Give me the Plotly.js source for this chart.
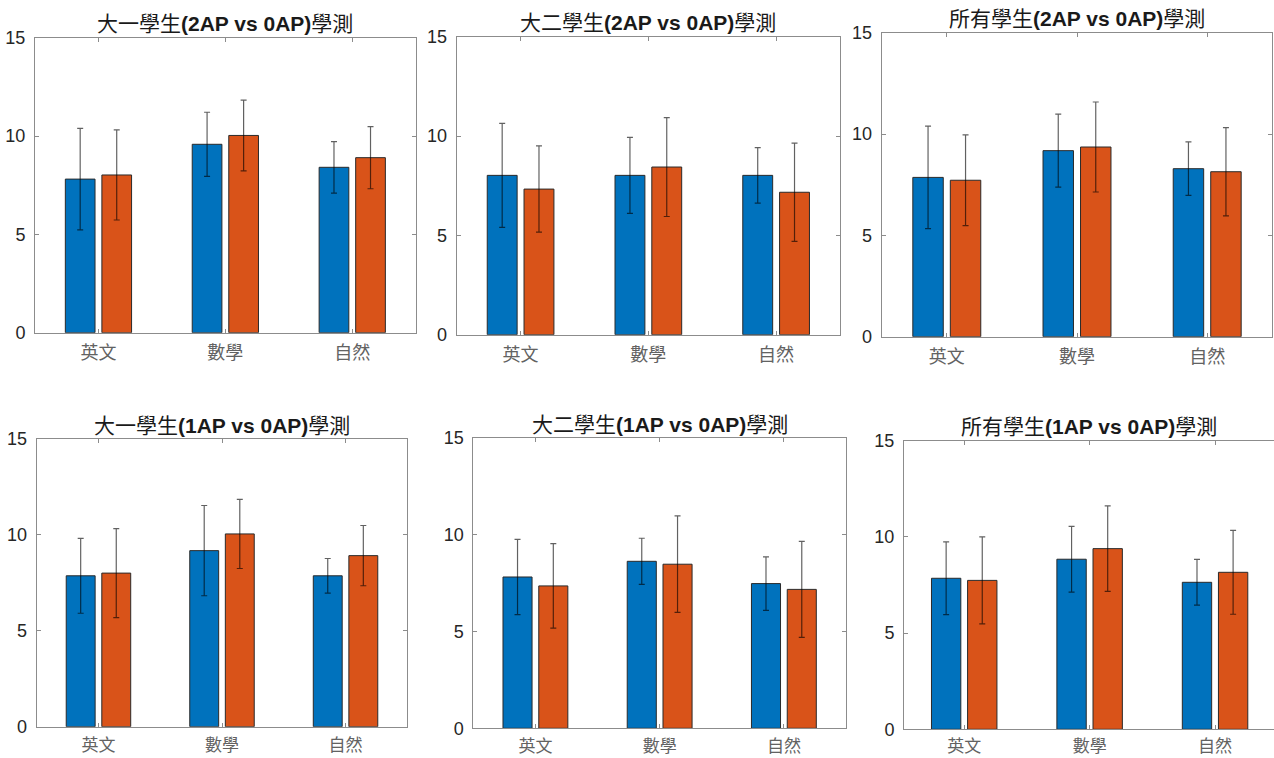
<!DOCTYPE html>
<html>
<head>
<meta charset="utf-8">
<script src="https://cdn.plot.ly/plotly-3.0.1.min.js"></script>
<style>html,body{margin:0;padding:0;background:#fff;}#chart{width:1274px;height:758px;}</style>
</head>
<body>
<div id="chart"></div>
<script>
// ---- data ----
const categories = ['英文', '數學', '自然'];
const titles = [
  '大一學生<b>(2AP vs 0AP)</b>學測',
  '大二學生<b>(2AP vs 0AP)</b>學測',
  '所有學生<b>(2AP vs 0AP)</b>學測',
  '大一學生<b>(1AP vs 0AP)</b>學測',
  '大二學生<b>(1AP vs 0AP)</b>學測',
  '所有學生<b>(1AP vs 0AP)</b>學測'
];
const yTickVals = [0, 5, 10, 15];

// panel 1: 大一 2AP vs 0AP
const p1Blue = [7.81, 9.58, 8.41];
const p1BlueSD = [2.58, 1.63, 1.31];
const p1Orange = [8.02, 10.03, 8.90];
const p1OrangeSD = [2.29, 1.80, 1.58];
// panel 2: 大二 2AP vs 0AP
const p2Blue = [8.02, 8.02, 8.02];
const p2BlueSD = [2.62, 1.91, 1.40];
const p2Orange = [7.33, 8.44, 7.17];
const p2OrangeSD = [2.17, 2.49, 2.47];
// panel 3: 所有 2AP vs 0AP
const p3Blue = [7.86, 9.18, 8.29];
const p3BlueSD = [2.53, 1.80, 1.32];
const p3Orange = [7.72, 9.36, 8.14];
const p3OrangeSD = [2.24, 2.22, 2.18];
// panel 4: 大一 1AP vs 0AP
const p4Blue = [7.86, 9.17, 7.86];
const p4BlueSD = [1.95, 2.35, 0.90];
const p4Orange = [8.00, 10.04, 8.91];
const p4OrangeSD = [2.32, 1.80, 1.57];
// panel 5: 大二 1AP vs 0AP
const p5Blue = [7.81, 8.62, 7.47];
const p5BlueSD = [1.94, 1.19, 1.38];
const p5Orange = [7.35, 8.47, 7.17];
const p5OrangeSD = [2.18, 2.49, 2.48];
// panel 6: 所有 1AP vs 0AP
const p6Blue = [7.85, 8.84, 7.64];
const p6BlueSD = [1.89, 1.71, 1.19];
const p6Orange = [7.74, 9.39, 8.16];
const p6OrangeSD = [2.26, 2.22, 2.18];

const panels = [
  [p1Blue, p1BlueSD, p1Orange, p1OrangeSD],
  [p2Blue, p2BlueSD, p2Orange, p2OrangeSD],
  [p3Blue, p3BlueSD, p3Orange, p3OrangeSD],
  [p4Blue, p4BlueSD, p4Orange, p4OrangeSD],
  [p5Blue, p5BlueSD, p5Orange, p5OrangeSD],
  [p6Blue, p6BlueSD, p6Orange, p6OrangeSD]
];

// ---- geometry (pixels) ----
const W = 1274, H = 758;
const boxes = [
  {l: 35,    r: 415.7, t: 37.7,  b: 332.7, ty: 23.3, xr: [-0.5, 2.5], mirrorY: 'ticks', fs: 18, so: 4},
  {l: 456.7, r: 840,   t: 36.7,  b: 334.7, ty: 22.7, xr: [-0.5, 2.5], mirrorY: 'ticks', fs: 18, so: 4},
  {l: 881.7, r: 1272.3,t: 32.7,  b: 336.7, ty: 18.3, xr: [-0.5, 2.5], mirrorY: 'ticks', fs: 18, so: 4},
  {l: 36.7,  r: 407.3, t: 438.7, b: 726.7, ty: 425,  xr: [-0.5, 2.5], mirrorY: 'ticks', fs: 17, so: 3},
  {l: 473.3, r: 846,   t: 437.7, b: 728.3, ty: 424.3,xr: [-0.5, 2.5], mirrorY: 'ticks', fs: 17, so: 2},
  {l: 904,   r: 1274,  t: 440.7, b: 729.3, ty: 426.7,xr: [-0.48, 2.47], mirrorY: false, fs: 17, so: 1}
];

const BLUE = '#0072BD', ORANGE = '#D95319';
const traces = [];
const layout = {
  width: W, height: H,
  margin: {l: 0, r: 0, t: 0, b: 0},
  paper_bgcolor: '#fff', plot_bgcolor: '#fff',
  showlegend: false,
  barmode: 'group',
  bargap: 0.424,
  bargroupgap: 0.1875,
  annotations: []
};

panels.forEach((p, i) => {
  const n = i + 1;
  const xa = 'x' + (n === 1 ? '' : n), ya = 'y' + (n === 1 ? '' : n);
  const mk = (vals, sd, color) => ({
    type: 'bar', x: categories, y: vals, xaxis: xa, yaxis: ya,
    marker: {color: color, line: {color: '#2a2a2a', width: 1}},
    error_y: {type: 'data', array: sd, visible: true, color: 'rgba(0,0,0,0.62)', thickness: 1.2, width: 3},
    hoverinfo: 'none'
  });
  traces.push(mk(p[0], p[1], BLUE));
  traces.push(mk(p[2], p[3], ORANGE));

  const bx = boxes[i];
  const xkey = 'xaxis' + (n === 1 ? '' : n), ykey = 'yaxis' + (n === 1 ? '' : n);
  layout[xkey] = {
    domain: [bx.l / W, bx.r / W],
    anchor: ya,
    type: 'category',
    range: bx.xr,
    showline: true, linecolor: '#8c8c8c', linewidth: 1,
    mirror: 'ticks',
    ticks: 'inside', ticklen: 4, tickcolor: '#8c8c8c', tickwidth: 1,
    showgrid: false, zeroline: false,
    tickfont: {family: '"Noto Sans CJK TC", "Noto Sans CJK SC", sans-serif', size: bx.fs, color: '#626262'},
    ticklabelstandoff: bx.so,
    fixedrange: true
  };
  layout[ykey] = {
    domain: [1 - bx.b / H, 1 - bx.t / H],
    anchor: xa,
    range: [0, 15],
    tickvals: yTickVals,
    ticktext: yTickVals.map(String),
    showline: true, linecolor: '#8c8c8c', linewidth: 1,
    mirror: bx.mirrorY,
    ticks: 'inside', ticklen: 4, tickcolor: '#8c8c8c', tickwidth: 1,
    showgrid: false, zeroline: false,
    tickfont: {family: '"Liberation Sans", Arial, sans-serif', size: 18, color: '#262626'},
    ticklabelstandoff: 5,
    fixedrange: true
  };
  layout.annotations.push({
    xref: 'paper', yref: 'paper',
    x: (bx.l + bx.r) / 2 / W, y: 1 - bx.ty / H,
    xanchor: 'center', yanchor: 'middle',
    text: titles[i], showarrow: false,
    font: {family: '"Liberation Sans", "Noto Sans CJK TC", sans-serif', size: 21, color: '#1a1a1a'}
  });
});

Plotly.newPlot('chart', traces, layout, {staticPlot: true, displayModeBar: false});
</script>
</body>
</html>
